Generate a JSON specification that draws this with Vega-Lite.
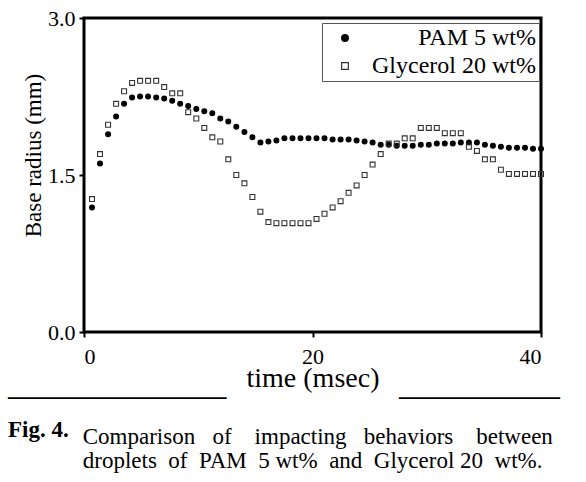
{
  "$schema": "https://vega.github.io/schema/vega-lite/v6.json",
  "width": 457,
  "height": 314,
  "padding": {"left": 8, "top": 7, "right": 5, "bottom": 5},
  "background": "white",
  "title": {
    "text": [
      "___________________\u00a0\u00a0\u00a0\u00a0\u00a0\u00a0\u00a0\u00a0\u00a0\u00a0\u00a0\u00a0\u00a0\u00a0\u00a0\u00a0\u00a0\u00a0\u00a0\u00a0\u00a0\u00a0\u00a0\u00a0\u00a0\u00a0\u00a0\u00a0\u00a0\u00a0______________",
      "Fig. 4."
    ],
    "orient": "bottom",
    "anchor": "start",
    "frame": "group",
    "dx": -76,
    "offset": -14,
    "font": "Liberation Serif",
    "fontSize": 23,
    "fontWeight": "bold",
    "lineHeight": 41,
    "color": "black",
    "subtitle": [
      "\u200b\u00a0\u00a0\u00a0\u00a0\u00a0\u00a0\u00a0\u00a0\u00a0\u00a0\u00a0\u00a0\u00a0Comparison \u00a0\u00a0of \u00a0\u00a0\u00a0impacting \u00a0\u00a0behaviors \u00a0\u00a0\u00a0between",
      "\u200b\u00a0\u00a0\u00a0\u00a0\u00a0\u00a0\u00a0\u00a0\u00a0\u00a0\u00a0\u00a0\u00a0droplets \u00a0of \u00a0PAM \u00a05 wt% \u00a0and \u00a0Glycerol 20 \u00a0wt%."
    ],
    "subtitleFont": "Liberation Serif",
    "subtitleFontSize": 23,
    "subtitleFontWeight": "normal",
    "subtitleColor": "black",
    "subtitlePadding": -16,
    "subtitleLineHeight": 24
  },
  "data": {
    "values": [
      {"t": 0.70, "r": 1.19, "s": "PAM 5 wt%"},
      {"t": 1.40, "r": 1.61, "s": "PAM 5 wt%"},
      {"t": 2.11, "r": 1.89, "s": "PAM 5 wt%"},
      {"t": 2.81, "r": 2.06, "s": "PAM 5 wt%"},
      {"t": 3.51, "r": 2.18, "s": "PAM 5 wt%"},
      {"t": 4.21, "r": 2.24, "s": "PAM 5 wt%"},
      {"t": 4.91, "r": 2.25, "s": "PAM 5 wt%"},
      {"t": 5.61, "r": 2.25, "s": "PAM 5 wt%"},
      {"t": 6.32, "r": 2.24, "s": "PAM 5 wt%"},
      {"t": 7.02, "r": 2.23, "s": "PAM 5 wt%"},
      {"t": 7.72, "r": 2.21, "s": "PAM 5 wt%"},
      {"t": 8.42, "r": 2.18, "s": "PAM 5 wt%"},
      {"t": 9.12, "r": 2.16, "s": "PAM 5 wt%"},
      {"t": 9.83, "r": 2.13, "s": "PAM 5 wt%"},
      {"t": 10.53, "r": 2.11, "s": "PAM 5 wt%"},
      {"t": 11.23, "r": 2.09, "s": "PAM 5 wt%"},
      {"t": 11.93, "r": 2.04, "s": "PAM 5 wt%"},
      {"t": 12.63, "r": 2.01, "s": "PAM 5 wt%"},
      {"t": 13.33, "r": 1.96, "s": "PAM 5 wt%"},
      {"t": 14.04, "r": 1.91, "s": "PAM 5 wt%"},
      {"t": 14.74, "r": 1.86, "s": "PAM 5 wt%"},
      {"t": 15.44, "r": 1.81, "s": "PAM 5 wt%"},
      {"t": 16.14, "r": 1.82, "s": "PAM 5 wt%"},
      {"t": 16.84, "r": 1.83, "s": "PAM 5 wt%"},
      {"t": 17.54, "r": 1.85, "s": "PAM 5 wt%"},
      {"t": 18.25, "r": 1.85, "s": "PAM 5 wt%"},
      {"t": 18.95, "r": 1.85, "s": "PAM 5 wt%"},
      {"t": 19.65, "r": 1.85, "s": "PAM 5 wt%"},
      {"t": 20.35, "r": 1.85, "s": "PAM 5 wt%"},
      {"t": 21.05, "r": 1.85, "s": "PAM 5 wt%"},
      {"t": 21.76, "r": 1.84, "s": "PAM 5 wt%"},
      {"t": 22.46, "r": 1.84, "s": "PAM 5 wt%"},
      {"t": 23.16, "r": 1.84, "s": "PAM 5 wt%"},
      {"t": 23.86, "r": 1.83, "s": "PAM 5 wt%"},
      {"t": 24.56, "r": 1.82, "s": "PAM 5 wt%"},
      {"t": 25.26, "r": 1.81, "s": "PAM 5 wt%"},
      {"t": 25.97, "r": 1.79, "s": "PAM 5 wt%"},
      {"t": 26.67, "r": 1.79, "s": "PAM 5 wt%"},
      {"t": 27.37, "r": 1.78, "s": "PAM 5 wt%"},
      {"t": 28.07, "r": 1.78, "s": "PAM 5 wt%"},
      {"t": 28.77, "r": 1.78, "s": "PAM 5 wt%"},
      {"t": 29.48, "r": 1.79, "s": "PAM 5 wt%"},
      {"t": 30.18, "r": 1.79, "s": "PAM 5 wt%"},
      {"t": 30.88, "r": 1.80, "s": "PAM 5 wt%"},
      {"t": 31.58, "r": 1.80, "s": "PAM 5 wt%"},
      {"t": 32.28, "r": 1.80, "s": "PAM 5 wt%"},
      {"t": 32.98, "r": 1.81, "s": "PAM 5 wt%"},
      {"t": 33.69, "r": 1.81, "s": "PAM 5 wt%"},
      {"t": 34.39, "r": 1.81, "s": "PAM 5 wt%"},
      {"t": 35.09, "r": 1.79, "s": "PAM 5 wt%"},
      {"t": 35.79, "r": 1.78, "s": "PAM 5 wt%"},
      {"t": 36.49, "r": 1.77, "s": "PAM 5 wt%"},
      {"t": 37.19, "r": 1.76, "s": "PAM 5 wt%"},
      {"t": 37.90, "r": 1.76, "s": "PAM 5 wt%"},
      {"t": 38.60, "r": 1.76, "s": "PAM 5 wt%"},
      {"t": 39.30, "r": 1.75, "s": "PAM 5 wt%"},
      {"t": 40.00, "r": 1.75, "s": "PAM 5 wt%"},
      {"t": 0.70, "r": 1.27, "s": "Glycerol 20 wt%"},
      {"t": 1.40, "r": 1.70, "s": "Glycerol 20 wt%"},
      {"t": 2.11, "r": 1.98, "s": "Glycerol 20 wt%"},
      {"t": 2.81, "r": 2.18, "s": "Glycerol 20 wt%"},
      {"t": 3.51, "r": 2.30, "s": "Glycerol 20 wt%"},
      {"t": 4.21, "r": 2.38, "s": "Glycerol 20 wt%"},
      {"t": 4.91, "r": 2.40, "s": "Glycerol 20 wt%"},
      {"t": 5.61, "r": 2.40, "s": "Glycerol 20 wt%"},
      {"t": 6.32, "r": 2.40, "s": "Glycerol 20 wt%"},
      {"t": 7.02, "r": 2.34, "s": "Glycerol 20 wt%"},
      {"t": 7.72, "r": 2.28, "s": "Glycerol 20 wt%"},
      {"t": 8.42, "r": 2.28, "s": "Glycerol 20 wt%"},
      {"t": 9.12, "r": 2.10, "s": "Glycerol 20 wt%"},
      {"t": 9.83, "r": 2.04, "s": "Glycerol 20 wt%"},
      {"t": 10.53, "r": 1.95, "s": "Glycerol 20 wt%"},
      {"t": 11.23, "r": 1.86, "s": "Glycerol 20 wt%"},
      {"t": 11.93, "r": 1.82, "s": "Glycerol 20 wt%"},
      {"t": 12.63, "r": 1.65, "s": "Glycerol 20 wt%"},
      {"t": 13.33, "r": 1.50, "s": "Glycerol 20 wt%"},
      {"t": 14.04, "r": 1.42, "s": "Glycerol 20 wt%"},
      {"t": 14.74, "r": 1.29, "s": "Glycerol 20 wt%"},
      {"t": 15.44, "r": 1.15, "s": "Glycerol 20 wt%"},
      {"t": 16.14, "r": 1.05, "s": "Glycerol 20 wt%"},
      {"t": 16.84, "r": 1.04, "s": "Glycerol 20 wt%"},
      {"t": 17.54, "r": 1.04, "s": "Glycerol 20 wt%"},
      {"t": 18.25, "r": 1.04, "s": "Glycerol 20 wt%"},
      {"t": 18.95, "r": 1.04, "s": "Glycerol 20 wt%"},
      {"t": 19.65, "r": 1.04, "s": "Glycerol 20 wt%"},
      {"t": 20.35, "r": 1.08, "s": "Glycerol 20 wt%"},
      {"t": 21.05, "r": 1.13, "s": "Glycerol 20 wt%"},
      {"t": 21.76, "r": 1.19, "s": "Glycerol 20 wt%"},
      {"t": 22.46, "r": 1.25, "s": "Glycerol 20 wt%"},
      {"t": 23.16, "r": 1.33, "s": "Glycerol 20 wt%"},
      {"t": 23.86, "r": 1.40, "s": "Glycerol 20 wt%"},
      {"t": 24.56, "r": 1.50, "s": "Glycerol 20 wt%"},
      {"t": 25.26, "r": 1.60, "s": "Glycerol 20 wt%"},
      {"t": 25.97, "r": 1.70, "s": "Glycerol 20 wt%"},
      {"t": 26.67, "r": 1.80, "s": "Glycerol 20 wt%"},
      {"t": 27.37, "r": 1.80, "s": "Glycerol 20 wt%"},
      {"t": 28.07, "r": 1.85, "s": "Glycerol 20 wt%"},
      {"t": 28.77, "r": 1.85, "s": "Glycerol 20 wt%"},
      {"t": 29.48, "r": 1.95, "s": "Glycerol 20 wt%"},
      {"t": 30.18, "r": 1.95, "s": "Glycerol 20 wt%"},
      {"t": 30.88, "r": 1.95, "s": "Glycerol 20 wt%"},
      {"t": 31.58, "r": 1.90, "s": "Glycerol 20 wt%"},
      {"t": 32.28, "r": 1.90, "s": "Glycerol 20 wt%"},
      {"t": 32.98, "r": 1.90, "s": "Glycerol 20 wt%"},
      {"t": 33.69, "r": 1.77, "s": "Glycerol 20 wt%"},
      {"t": 34.39, "r": 1.73, "s": "Glycerol 20 wt%"},
      {"t": 35.09, "r": 1.65, "s": "Glycerol 20 wt%"},
      {"t": 35.79, "r": 1.65, "s": "Glycerol 20 wt%"},
      {"t": 36.49, "r": 1.55, "s": "Glycerol 20 wt%"},
      {"t": 37.19, "r": 1.51, "s": "Glycerol 20 wt%"},
      {"t": 37.90, "r": 1.51, "s": "Glycerol 20 wt%"},
      {"t": 38.60, "r": 1.51, "s": "Glycerol 20 wt%"},
      {"t": 39.30, "r": 1.51, "s": "Glycerol 20 wt%"},
      {"t": 40.00, "r": 1.51, "s": "Glycerol 20 wt%"}
    ]
  },
  "mark": {"type": "point", "opacity": 1, "strokeWidth": 1.1, "size": 24},
  "encoding": {
    "x": {
      "field": "t", "type": "quantitative",
      "scale": {"domain": [0, 40], "nice": false, "zero": false},
      "axis": {"values": [0, 20, 40], "title": "time (msec)", "labelFont": "Liberation Serif", "labelFontSize": 22, "labelPadding": 9, "titleFont": "Liberation Serif", "titleFontSize": 28, "titleBaseline": "alphabetic", "titleY": 54}
    },
    "y": {
      "field": "r", "type": "quantitative",
      "scale": {"domain": [0, 3], "nice": false},
      "axis": {"values": [0, 1.5, 3], "format": ".1f", "title": "Base radius (mm)", "labelFont": "Liberation Serif", "labelFontSize": 22, "labelPadding": 4, "titleFont": "Liberation Serif", "titleFontSize": 23, "titleX": -51, "titleY": 137, "titleBaseline": "middle", "titleAlign": "center", "titleAngle": -90}
    },
    "shape": {
      "field": "s", "type": "nominal",
      "scale": {"domain": ["PAM 5 wt%", "Glycerol 20 wt%"], "range": ["circle", "square"]},
      "legend": {"title": null, "orient": "none", "legendX": 238, "legendY": 5}
    },
    "fill": {
      "field": "s", "type": "nominal",
      "scale": {"domain": ["PAM 5 wt%", "Glycerol 20 wt%"], "range": ["black", "transparent"]},
      "legend": {"title": null, "orient": "none", "legendX": 238, "legendY": 5}
    },
    "stroke": {
      "field": "s", "type": "nominal",
      "scale": {"domain": ["PAM 5 wt%", "Glycerol 20 wt%"], "range": ["black", "#333333"]},
      "legend": {"title": null, "orient": "none", "legendX": 238, "legendY": 5}
    }
  },
  "config": {
    "view": {"stroke": "black", "strokeWidth": 3},
    "axis": {
      "domain": false,
      "grid": false,
      "tickColor": "black",
      "tickWidth": 2,
      "tickSize": 5,
      "labelColor": "black",
      "titleFontWeight": "normal",
      "titleColor": "black"
    },
    "legend": {
      "labelFont": "Liberation Serif",
      "labelFontSize": 24,
      "labelColor": "black",
      "labelAlign": "right",
      "labelOffset": 179,
      "labelLimit": 400,
      "symbolSize": 45,
      "symbolOffset": 8,
      "symbolStrokeWidth": 1.2,
      "strokeColor": "#555555",
      "fillColor": "white",
      "padding": 3,
      "rowPadding": 4
    }
  }
}
